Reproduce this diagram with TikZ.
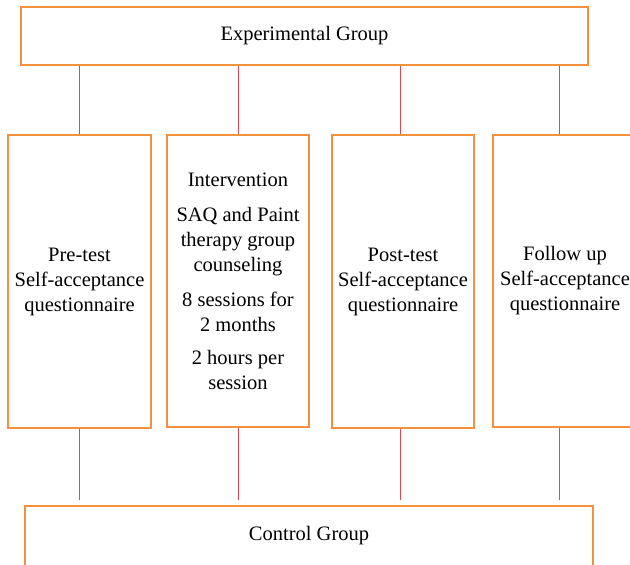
\documentclass[tikz,border=0pt]{standalone}
\usepackage{fontspec}
\setmainfont{Liberation Serif}
\definecolor{boxorange}{RGB}{245,145,62}
\definecolor{linkred}{RGB}{222,72,80}

\begin{document}
\begin{tikzpicture}[x=1pt,y=-1pt,
  box/.style={draw=boxorange,line width=1.2pt,rectangle,inner sep=0pt,align=center,
    font=\fontsize{20.5}{25}\selectfont},
  link/.style={draw=linkred,line width=0.9pt}]
\useasboundingbox (0,0) rectangle (630,565);
\clip (0,0) rectangle (630,565);
\node[box,minimum width=567pt,minimum height=58pt] (exp) at (304.5,36) {Experimental Group};
\node[box,minimum width=143pt,minimum height=293pt] (pre) at (79.5,281.5) {Pre-test\\Self-acceptance\\questionnaire};
\node[box,minimum width=142pt,minimum height=292pt] (interv) at (238,281) {Intervention\\[10pt]SAQ and Paint\\therapy group\\counseling\\[10pt]8 sessions for\\2 months\\[8pt]2 hours per\\session};
\node[box,minimum width=142pt,minimum height=293pt] (post) at (403,281.5) {Post-test\\Self-acceptance\\questionnaire};
\node[box,minimum width=144pt,minimum height=292pt] (follow) at (565,281) {Follow up\\Self-acceptance\\questionnaire};
\node[box,minimum width=568pt,minimum height=60pt] (ctrl) at (309,536) {Control Group};
\draw[link] (pre.north) -- (pre.north |- exp.south);
\draw[link] (interv.north) -- (interv.north |- exp.south);
\draw[link] ([xshift=-3pt]post.north) -- ([xshift=-3pt]post.north |- exp.south);
\draw[link] ([xshift=-6pt]follow.north) -- ([xshift=-6pt]follow.north |- exp.south);
\draw[link,shorten >=5pt] (pre.south) -- (pre.south |- ctrl.north);
\draw[link,shorten >=5pt] (interv.south) -- (interv.south |- ctrl.north);
\draw[link,shorten >=5pt] ([xshift=-3pt]post.south) -- ([xshift=-3pt]post.south |- ctrl.north);
\draw[link,shorten >=5pt] ([xshift=-6pt]follow.south) -- ([xshift=-6pt]follow.south |- ctrl.north);
\end{tikzpicture}
\end{document}
